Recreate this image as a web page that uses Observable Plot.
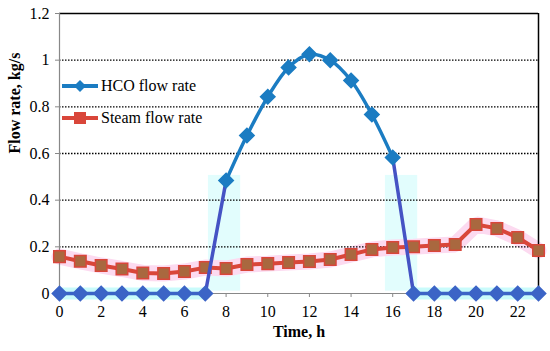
<!DOCTYPE html>
<html>
<head>
<meta charset="utf-8">
<script src="https://cdn.jsdelivr.net/npm/d3@7"></script>
<script src="https://cdn.jsdelivr.net/npm/@observablehq/plot@0.6"></script>
<style>
  html, body { margin: 0; padding: 0; background: #fff; }
  #wrap { position: relative; width: 550px; height: 351px; font-family: "Liberation Serif", "Times New Roman", Times, "DejaVu Serif", serif; }
  #wrap svg, #wrap svg text { font-family: "Liberation Serif", "Times New Roman", Times, "DejaVu Serif", serif !important; }
  .legend { position: absolute; left: 62px; font-size: 16px; color: #000; display: flex; align-items: center; }
  .legend svg { margin-right: 3px; }
  g[aria-label="x-axis tick"], g[aria-label="y-axis tick"] { color: #888; }
</style>
</head>
<body>
<div id="wrap"></div>
<script>
const hours = [0,1,2,3,4,5,6,7,8,9,10,11,12,13,14,15,16,17,18,19,20,21,22,23];
const hcoFlow = [0,0,0,0,0,0,0,0,0.484,0.677,0.843,0.969,1.025,1.0,0.913,0.767,0.583,0,0,0,0,0,0,0];
const steamFlow = [0.158,0.138,0.12,0.105,0.088,0.086,0.094,0.111,0.107,0.124,0.128,0.133,0.137,0.146,0.167,0.189,0.197,0.2,0.206,0.21,0.296,0.279,0.24,0.184];
const xTicks = [0,2,4,6,8,10,12,14,16,18,20,22];
const yTicks = [0,0.2,0.4,0.6,0.8,1,1.2];
const gridValues = [0.2,0.4,0.6,0.8,1];
const seriesNames = ["HCO flow rate", "Steam flow rate"];

const rows = hours.map((h, i) => ({hour: h, hco: hcoFlow[i], steam: steamFlow[i]}));
const zeroA = rows.filter(d => d.hour <= 7);
const riseSeg = rows.filter(d => d.hour >= 7 && d.hour <= 8);
const smoothSeg = rows.filter(d => d.hour >= 8 && d.hour <= 16);
const fallSeg = rows.filter(d => d.hour >= 16 && d.hour <= 17);
const zeroB = rows.filter(d => d.hour >= 17);

// faint highlight boxes around the steep transitions (derived from the segments)
const boxes = [
  {x1: d3.min(riseSeg, d => d.hour) + 0.15, x2: d3.max(riseSeg, d => d.hour) + 0.7, y1: 0.01, y2: 0.506},
  {x1: d3.min(fallSeg, d => d.hour) - 0.35, x2: d3.max(fallSeg, d => d.hour) + 0.2, y1: 0.01, y2: 0.506}
];

const blue = "#1b7cc2";
const purple = "#4553c4";
const zeroBlue = "#3b64c6";
const red = "#d9463a";
const serif = "'Liberation Serif', 'Times New Roman', Times, 'DejaVu Serif', serif";

const chart = Plot.plot({
  width: 550,
  height: 351,
  marginLeft: 59,
  marginRight: 12,
  marginTop: 13,
  marginBottom: 58,
  x: {domain: [0, 23]},
  y: {domain: [0, 1.2]},
  style: {fontSize: "16px", fontFamily: serif, color: "#000", background: "#fff"},
  marks: [
    // glows
    Plot.rect(boxes, {x1: "x1", x2: "x2", y1: "y1", y2: "y2", fill: "#e2fdfd"}),
    Plot.line(zeroA, {x: "hour", y: "hco", stroke: "#c9fbfb", strokeWidth: 12, strokeLinecap: "butt"}),
    Plot.line(zeroB, {x: "hour", y: "hco", stroke: "#c9fbfb", strokeWidth: 12, strokeLinecap: "butt"}),
    Plot.line(rows, {x: "hour", y: "steam", stroke: "#fcdaf0", strokeWidth: 16, strokeLinejoin: "miter"}),
    // grid & frame
    Plot.ruleY(gridValues, {stroke: "#000", strokeWidth: 1.4, strokeDasharray: "1.5,1.5"}),
    Plot.ruleY([1.2], {stroke: "#000", strokeWidth: 1.5}),
    Plot.ruleX([23], {stroke: "#000", strokeWidth: 1.5}),
    Plot.ruleX([0], {stroke: "#888", strokeWidth: 1.2}),
    Plot.ruleY([0], {stroke: "#888", strokeWidth: 1.2}),
    Plot.axisX({ticks: xTicks, tickSize: 4, tickPadding: 8, tickFormat: d => String(d), label: null, fontSize: 16}),
    Plot.axisY({ticks: yTicks, tickSize: 4, tickPadding: 6, tickFormat: d => String(d), label: null, fontSize: 16}),
    Plot.text(["Time, h"], {frameAnchor: "bottom", dy: 43, fontWeight: "bold", fontSize: 16}),
    Plot.text(["Flow rate, kg/s"], {frameAnchor: "left", dx: -45, rotate: -90, fontWeight: "bold", fontSize: 16}),
    // steam series
    Plot.line(rows, {x: "hour", y: "steam", stroke: red, strokeWidth: 4}),
    Plot.dot(rows, {x: "hour", y: "steam", symbol: "square", r: 6.5, fill: "#a9683f", stroke: red, strokeWidth: 1.5}),
    // HCO series
    Plot.line(zeroA, {x: "hour", y: "hco", stroke: zeroBlue, strokeWidth: 3.5}),
    Plot.line(zeroB, {x: "hour", y: "hco", stroke: zeroBlue, strokeWidth: 3.5}),
    Plot.line(riseSeg, {x: "hour", y: "hco", stroke: purple, strokeWidth: 3.5}),
    Plot.line(fallSeg, {x: "hour", y: "hco", stroke: purple, strokeWidth: 3.5}),
    Plot.line(smoothSeg, {x: "hour", y: "hco", stroke: blue, strokeWidth: 3.5, curve: "catmull-rom"}),
    Plot.dot(rows.filter(d => d.hco === 0), {x: "hour", y: "hco", symbol: "diamond2", r: 6.5, fill: zeroBlue, stroke: zeroBlue}),
    Plot.dot(rows.filter(d => d.hco > 0), {x: "hour", y: "hco", symbol: "diamond2", r: 6.5, fill: blue, stroke: blue})
  ]
});

const wrap = document.getElementById("wrap");
wrap.appendChild(chart);

function legendItem(name, color, symbol, fill, top) {
  const div = document.createElement("div");
  div.className = "legend";
  div.style.top = top + "px";
  const shape = symbol === "diamond"
    ? `<path d="M18,1 L24,7 L18,13 L12,7 Z" fill="${fill}"/>`
    : `<rect x="12" y="1" width="12" height="12" fill="${fill}"/>`;
  div.innerHTML = `<svg width="36" height="14"><line x1="0" x2="36" y1="7" y2="7" stroke="${color}" stroke-width="4"/>${shape}</svg><span>${name}</span>`;
  wrap.appendChild(div);
}
legendItem(seriesNames[0], blue, "diamond", blue, 77);
legendItem(seriesNames[1], red, "square", red, 109);
</script>
</body>
</html>
